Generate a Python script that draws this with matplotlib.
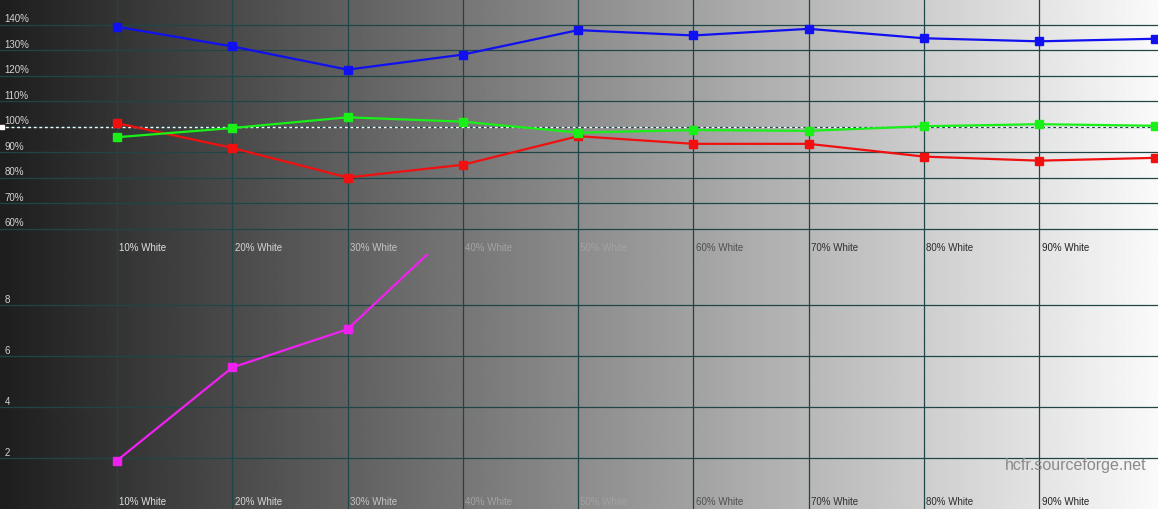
import matplotlib
matplotlib.use('Agg')
import matplotlib.pyplot as plt
import matplotlib.transforms as mtransforms
import numpy as np

# Grey levels measured (percent white)
levels = [10, 20, 30, 40, 50, 60, 70, 80, 90, 100]
level_labels = ['10% White', '20% White', '30% White', '40% White', '50% White',
                '60% White', '70% White', '80% White', '90% White']

# RGB levels (%) relative to reference
red_vals = [101.3, 91.6, 80.0, 85.0, 96.2, 93.2, 93.2, 88.2, 86.6, 87.7]
green_vals = [95.8, 99.4, 103.6, 101.9, 97.6, 98.6, 98.3, 100.1, 100.9, 100.3]
blue_vals = [139.1, 131.4, 122.3, 128.2, 137.8, 135.7, 138.3, 134.6, 133.4, 134.4]

# Delta E (only the first points are on scale)
de_levels = [10, 20, 30, 40]
de_vals = [1.9, 5.55, 7.05, 11.3]

pct_ticks = [60, 70, 80, 90, 100, 110, 120, 130, 140]
pct_tick_labels = ['60%', '70%', '80%', '90%', '100%', '110%', '120%', '130%', '140%']
de_ticks = [2, 4, 6, 8]
de_tick_labels = ['2', '4', '6', '8']

# label colours follow the background so they fade around mid grey
label_colors = ['#e0e0e0', '#d6d6d6', '#c4c4c4', '#a4a4a4', '#a2a2a2',
                '#505050', '#303030', '#2c2c2c', '#222222']

grid_color = '#1f4646'
xlim = (-0.15, 100.3)

plt.rcParams['font.family'] = ['Liberation Sans', 'DejaVu Sans']
fig = plt.figure(figsize=(11.58, 5.10), dpi=100)

# background gradient black -> white
bg = fig.add_axes([0, 0, 1, 1], zorder=0)
grad = np.linspace(30, 250, 512)[None, :] / 255.0
bg.imshow(np.repeat(grad, 2, axis=0), cmap='gray', vmin=0, vmax=1,
          aspect='auto', extent=[0, 1, 0, 1])
bg.set_axis_off()

ax_top = fig.add_axes([0, 0.5, 1, 0.5], zorder=1)
ax_bot = fig.add_axes([0, 0, 1, 0.5], zorder=1)

for ax in (ax_top, ax_bot):
    ax.set_facecolor('none')
    ax.set_xlim(*xlim)
    for s in ax.spines.values():
        s.set_visible(False)
    ax.set_xticks([])
    ax.set_yticks([])
    for lv in levels[:-1]:
        ax.axvline(lv, color=grid_color, lw=0.9, zorder=1)

# --- top panel: RGB levels
ax_top.set_ylim(50, 150)
for v in pct_ticks:
    ax_top.axhline(v, color=grid_color, lw=0.9, zorder=1)
ax_top.axhline(100, color='white', lw=1.0, ls=(0, (2, 2)), zorder=2)
ax_top.plot([xlim[0] + 0.15], [100], marker='s', color='white', ms=3.5,
            clip_on=False, zorder=3)

mk = dict(marker='s', ms=5.8, lw=1.6, zorder=4)
ax_top.plot(levels, blue_vals, color='#1010f0', **mk)
ax_top.plot(levels, red_vals, color='#f01010', **mk)
ax_top.plot(levels, green_vals, color='#18f018', **mk)

tr_top = mtransforms.blended_transform_factory(ax_top.transAxes, ax_top.transData)
for v, lab in zip(pct_ticks, pct_tick_labels):
    ax_top.text(0.004, v + 1.2, lab, transform=tr_top, fontsize=7,
                color='#d4d4d4', va='baseline', ha='left')

# --- bottom panel: delta E
ax_bot.set_ylim(0, 10)
for v in de_ticks:
    ax_bot.axhline(v, color=grid_color, lw=0.9, zorder=1)
ax_bot.plot(de_levels, de_vals, color='#f020f0', **mk)

tr_bot = mtransforms.blended_transform_factory(ax_bot.transAxes, ax_bot.transData)
for v, lab in zip(de_ticks, de_tick_labels):
    ax_bot.text(0.004, v + 0.1, lab, transform=tr_bot, fontsize=7,
                color='#d4d4d4', va='baseline', ha='left')

# x labels in both panels
for ax, ypos in ((ax_top, 0.027), (ax_bot, 0.031)):
    trx = mtransforms.blended_transform_factory(ax.transData, ax.transAxes)
    for lv, lab, c in zip(levels, level_labels, label_colors):
        ax.text(lv + 0.2, ypos, lab, transform=trx, fontsize=7, color=c,
                va='center', ha='left')

ax_bot.text(0.9905, 0.176, 'hcfr.sourceforge.net', transform=ax_bot.transAxes,
            fontsize=11.5, color='#8a8a8a', ha='right', va='center')

fig.savefig('out.png', dpi=100)
plt.close(fig)
